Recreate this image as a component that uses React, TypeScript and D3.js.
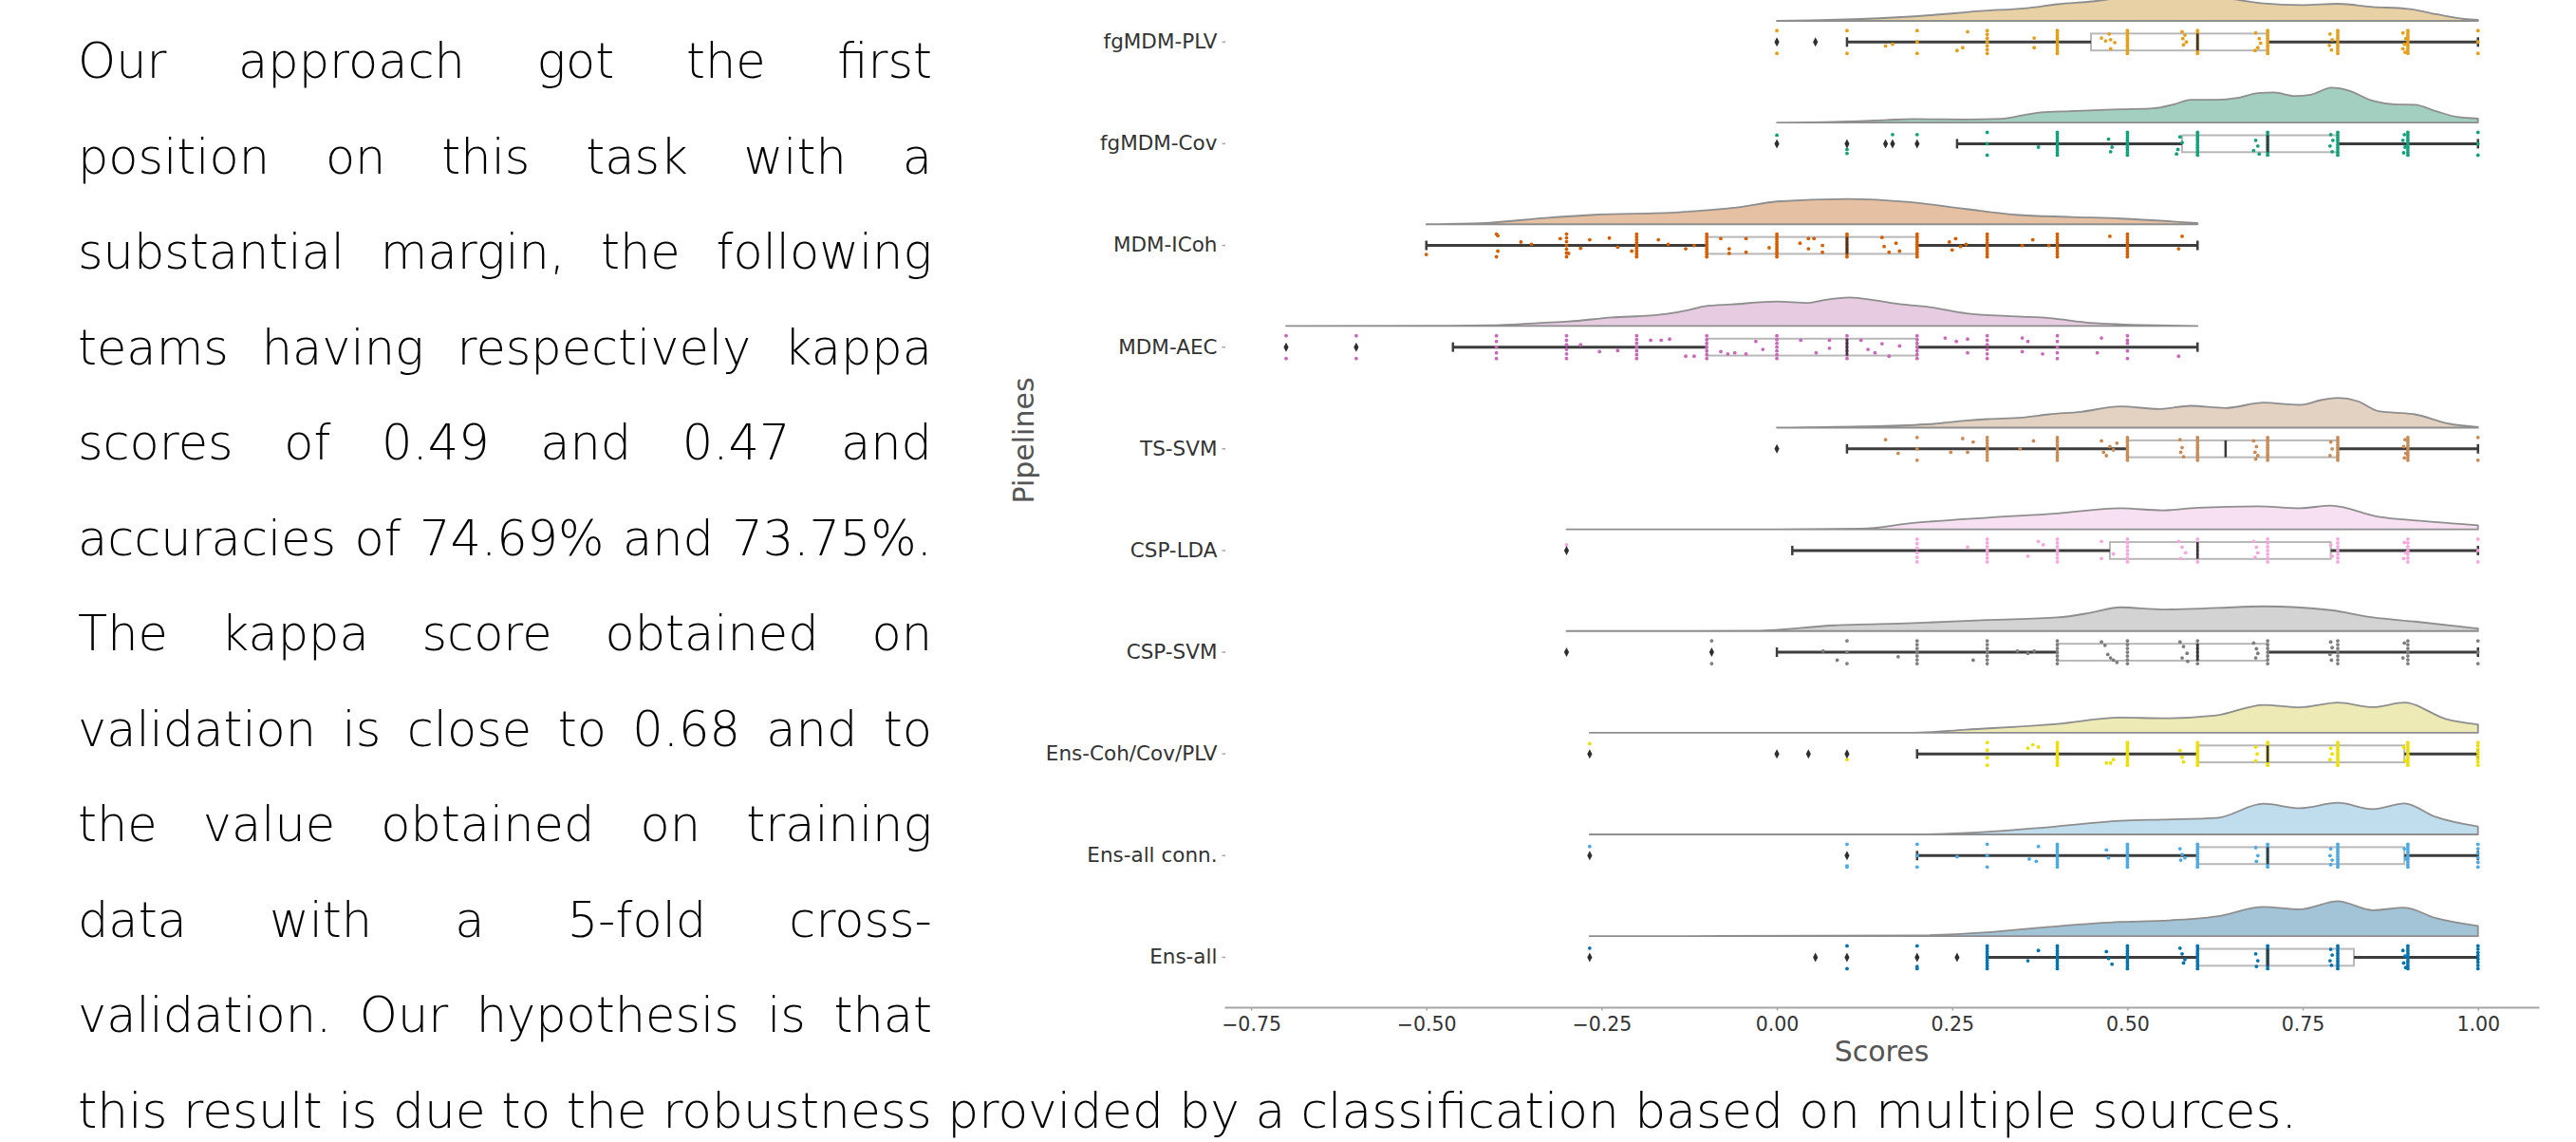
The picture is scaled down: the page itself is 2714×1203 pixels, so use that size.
import { useEffect, useRef } from "react";
import * as d3 from "d3";

const W = 2714;
const H = 1203;

// ---- paragraph text ----
const justifiedLines = [
  "Our approach got the first",
  "position on this task with a",
  "substantial margin, the following",
  "teams having respectively kappa",
  "scores of 0.49 and 0.47 and",
  "accuracies of 74.69% and 73.75%.",
  "The kappa score obtained on",
  "validation is close to 0.68 and to",
  "the value obtained on training",
  "data with a 5-fold cross-",
  "validation. Our hypothesis is that",
];
const lastLine =
  "this result is due to the robustness provided by a classification based on multiple sources.";

// ---- chart data ----
const pipelines = [
  "fgMDM-PLV",
  "fgMDM-Cov",
  "MDM-ICoh",
  "MDM-AEC",
  "TS-SVM",
  "CSP-LDA",
  "CSP-SVM",
  "Ens-Coh/Cov/PLV",
  "Ens-all conn.",
  "Ens-all",
];

const stripColors = [
  "#e69f1a", "#10a37a", "#d55e00", "#c968b9", "#c98b55",
  "#f7a6de", "#7d7d7d", "#ede000", "#4aaae6", "#0173b2",
];
const cloudColors = [
  "#e8d1a4", "#a3cfc0", "#e5c0a2", "#e6cbe1", "#e3d2c2",
  "#f7e0f1", "#d3d3d3", "#eeeab6", "#c0ddee", "#a3c3d7",
];

// [whisker low, q1, median, q3, whisker high]
const boxStats = [
  [0.1, 0.448, 0.6, 0.7, 1.0],
  [0.257, 0.578, 0.7, 0.8, 1.0],
  [-0.5, -0.1, 0.1, 0.2, 0.6],
  [-0.462, -0.1, 0.1, 0.2, 0.6],
  [0.1, 0.5, 0.64, 0.8, 1.0],
  [0.022, 0.475, 0.6, 0.79, 1.0],
  [0.0, 0.4, 0.6, 0.7, 1.0],
  [0.2, 0.6, 0.7, 0.895, 1.0],
  [0.2, 0.6, 0.7, 0.895, 1.0],
  [0.3, 0.6, 0.7, 0.823, 1.0],
];

const outliers = [
  [0.0, 0.055],
  [0.0, 0.1, 0.155, 0.165, 0.2],
  [],
  [-0.7, -0.6],
  [0.0],
  [-0.3],
  [-0.3, -0.093],
  [-0.267, 0.0, 0.045, 0.1],
  [-0.267, 0.1],
  [-0.267, 0.055, 0.1, 0.2, 0.257],
];

// repeated scores: [score, count]
const stacks = [
  [[0.0, 3], [0.1, 2], [0.2, 3], [0.3, 7], [0.4, 10], [0.5, 10], [0.6, 10], [0.7, 10], [0.8, 10], [0.9, 10], [1.0, 3]],
  [[0.3, 3], [0.4, 10], [0.5, 10], [0.6, 10], [0.7, 10], [0.8, 10], [0.9, 10], [1.0, 3]],
  [[-0.4, 2], [-0.3, 7], [-0.2, 9], [-0.1, 10], [0.0, 10], [0.1, 10], [0.2, 10], [0.3, 9], [0.4, 9], [0.5, 9]],
  [[-0.7, 2], [-0.6, 2], [-0.4, 5], [-0.3, 6], [-0.2, 7], [-0.1, 7], [0.0, 7], [0.1, 7], [0.2, 7], [0.3, 6], [0.4, 5], [0.5, 4]],
  [[0.2, 3], [0.3, 9], [0.4, 10], [0.5, 10], [0.6, 10], [0.7, 10], [0.8, 10], [0.9, 10], [1.0, 2]],
  [[0.2, 6], [0.3, 7], [0.4, 7], [0.5, 7], [0.6, 7], [0.7, 7], [0.8, 7], [0.9, 7], [1.0, 3]],
  [[-0.093, 2], [0.1, 3], [0.2, 7], [0.3, 7], [0.4, 7], [0.5, 7], [0.6, 7], [0.7, 7], [0.8, 7], [0.9, 7], [1.0, 3]],
  [[0.3, 4], [0.4, 10], [0.5, 10], [0.6, 10], [0.7, 10], [0.8, 10], [0.9, 10], [1.0, 8]],
  [[0.1, 2], [0.2, 3], [0.3, 3], [0.4, 10], [0.5, 10], [0.6, 10], [0.7, 10], [0.8, 10], [0.9, 10], [1.0, 6]],
  [[0.1, 3], [0.2, 2], [0.3, 9], [0.4, 10], [0.5, 10], [0.6, 10], [0.7, 10], [0.8, 10], [0.9, 10], [1.0, 8]],
];

// single scores: [score, jitter position -1 (top) .. 1 (bottom)]
const dots = [
  [[0.155, 0.35], [0.165, 0.2], [0.257, 0.75], [0.265, 0.5], [0.272, -0.9], [0.367, -0.35], [0.367, 0.5],
   [0.463, -0.35], [0.469, -0.1], [0.476, -0.2], [0.482, 0.05], [0.474, -0.7], [0.476, 0.6],
   [0.578, -0.9], [0.582, -0.6], [0.579, -0.3], [0.584, 0.0], [0.58, 0.25],
   [0.683, -0.8], [0.688, -0.3], [0.69, 0.1], [0.686, 0.5], [0.682, 0.75],
   [0.789, -0.7], [0.792, -0.2], [0.788, 0.3], [0.791, 0.7],
   [0.893, -0.8], [0.897, -0.3], [0.895, 0.2], [0.893, 0.6], [0.896, 0.9]],
  [[0.0, -0.75], [0.1, 0.5], [0.1, 0.85], [0.165, -0.8], [0.2, -0.8], [0.373, 0.3],
   [0.473, -0.4], [0.478, 0.3], [0.476, 0.7],
   [0.575, -0.6], [0.578, -0.1], [0.572, 0.5], [0.57, 0.9],
   [0.683, -0.3], [0.686, 0.2], [0.68, 0.6], [0.688, 0.9],
   [0.79, -0.8], [0.793, -0.3], [0.789, 0.2], [0.792, 0.7],
   [0.895, -0.8], [0.893, -0.3], [0.896, 0.3], [0.894, 0.8]],
  [[-0.5, 0.8], [-0.398, -0.85], [-0.398, 0.5], [-0.365, -0.3], [-0.35, -0.1], [-0.309, -0.6], [-0.297, 0.7],
   [-0.28, 0.25], [-0.267, -0.5], [-0.239, -0.65], [-0.227, 0.15], [-0.207, 0.5], [-0.169, -0.5],
   [-0.155, -0.1], [-0.13, 0.3], [-0.118, 0.0], [-0.08, -0.6], [-0.068, 0.3], [-0.068, 0.7],
   [-0.044, -0.6], [-0.044, 0.6], [-0.011, 0.2], [0.033, -0.2], [0.045, -0.6], [0.045, 0.3],
   [0.053, -0.6], [0.065, 0.0], [0.065, 0.6], [0.15, -0.7], [0.153, 0.1], [0.16, 0.6], [0.17, -0.2],
   [0.175, 0.5], [0.246, -0.3], [0.25, 0.4], [0.255, -0.6], [0.262, 0.1], [0.27, -0.1],
   [0.35, 0.0], [0.365, -0.5], [0.388, 0.0], [0.475, -0.8], [0.573, 0.3], [0.578, -0.8]],
  [[-0.28, -0.2], [-0.253, 0.4], [-0.227, 0.3], [-0.18, -0.6], [-0.165, -0.6], [-0.153, -0.7],
   [-0.13, 0.8], [-0.118, 0.8], [-0.08, 0.4], [-0.07, 0.6], [-0.06, 0.5], [-0.044, 0.6],
   [-0.03, -0.5], [-0.02, 0.2], [0.034, -0.6], [0.056, 0.5], [0.075, -0.6], [0.075, 0.1],
   [0.12, -0.6], [0.13, 0.2], [0.14, 0.5], [0.15, -0.3], [0.16, 0.8], [0.175, -0.1],
   [0.24, -0.8], [0.256, -0.5], [0.272, -0.7], [0.272, 0.5], [0.35, -0.8], [0.35, 0.4],
   [0.358, -0.5], [0.379, 0.6], [0.463, -0.8], [0.457, 0.5], [0.5, -0.6], [0.573, 0.8]],
  [[0.155, -0.8], [0.173, 0.4], [0.248, 0.3], [0.265, -0.9], [0.272, 0.3], [0.28, -0.6],
   [0.347, 0.0], [0.366, -0.7], [0.463, -0.7], [0.466, 0.3], [0.47, 0.6], [0.475, -0.2], [0.48, 0.1], [0.485, -0.5],
   [0.575, -0.8], [0.578, -0.1], [0.576, 0.3], [0.58, 0.7],
   [0.68, -0.7], [0.684, -0.2], [0.682, 0.3], [0.686, 0.6], [0.683, 0.9],
   [0.79, -0.6], [0.792, 0.0], [0.789, 0.6],
   [0.896, -0.8], [0.894, -0.2], [0.897, 0.4], [0.895, 0.8]],
  [[-0.3, -0.5], [0.272, -0.3], [0.358, 0.5], [0.373, -0.8], [0.38, -0.5], [0.463, -0.8], [0.463, 0.7], [0.48, 0.3],
   [0.573, -0.8], [0.578, -0.3], [0.583, 0.2], [0.576, 0.7],
   [0.68, -0.8], [0.684, -0.3], [0.686, 0.2], [0.682, 0.6],
   [0.79, -0.5], [0.792, 0.5], [0.895, -0.7], [0.897, 0.2], [0.894, 0.7]],
  [[0.066, -0.1], [0.086, 0.7], [0.173, 0.4], [0.28, 0.7], [0.343, -0.1], [0.358, 0.1], [0.367, -0.1],
   [0.463, -0.9], [0.468, -0.6], [0.472, 0.2], [0.476, 0.5], [0.48, 0.7], [0.485, 0.9],
   [0.575, -0.9], [0.58, -0.5], [0.585, 0.1], [0.578, 0.5], [0.586, 0.8],
   [0.68, -0.8], [0.684, -0.3], [0.686, 0.1], [0.683, 0.5],
   [0.79, -0.9], [0.792, -0.4], [0.789, 0.2], [0.791, 0.7], [0.895, -0.8], [0.893, 0.5]],
  [[-0.267, -0.9], [0.1, 0.5], [0.358, -0.5], [0.365, -0.8], [0.373, -0.6], [0.47, 0.8], [0.476, 0.8], [0.48, 0.5],
   [0.575, -0.3], [0.578, 0.3], [0.58, 0.7], [0.683, -0.6], [0.685, 0.0], [0.683, 0.6],
   [0.79, -0.5], [0.792, 0.0], [0.789, 0.5], [0.894, -0.6], [0.896, 0.6]],
  [[-0.267, -0.8], [0.1, 0.9], [0.257, 0.1], [0.36, 0.3], [0.37, 0.5], [0.373, -0.8], [0.47, -0.5], [0.473, 0.2],
   [0.575, -0.6], [0.578, -0.1], [0.582, 0.2], [0.576, 0.4], [0.683, -0.7], [0.686, 0.0], [0.684, 0.5],
   [0.79, -0.6], [0.789, 0.0], [0.792, 0.4], [0.79, 0.8], [0.895, -0.6], [0.897, 0.3]],
  [[-0.267, -0.8], [0.2, 0.8], [0.358, 0.3], [0.373, -0.6], [0.47, -0.5], [0.473, 0.1], [0.478, 0.6],
   [0.575, -0.8], [0.578, -0.3], [0.582, 0.2], [0.58, 0.5], [0.683, -0.3], [0.686, 0.3], [0.684, 0.8],
   [0.79, -0.7], [0.792, -0.2], [0.789, 0.3], [0.791, 0.7], [0.893, -0.6], [0.896, -0.1], [0.894, 0.5], [0.897, 0.9]],
];

// half-violin densities: [score, relative density]
const clouds = [
  [[0.0, 0], [0.05, 0.05], [0.12, 0.2], [0.22, 0.6], [0.29, 1.03], [0.36, 1.37], [0.4, 1.75], [0.45, 2.05],
   [0.5, 2.5], [0.55, 2.6], [0.6, 2.7], [0.64, 2.4], [0.69, 1.87], [0.75, 1.67], [0.8, 1.8], [0.85, 1.47],
   [0.9, 1.27], [0.94, 0.7], [0.98, 0.2], [1.0, 0.1]],
  [[0.0, 0], [0.082, 0.07], [0.157, 0.27], [0.194, 0.37], [0.269, 0.33], [0.321, 0.4], [0.351, 0.77],
   [0.377, 1.07], [0.418, 1.2], [0.463, 1.33], [0.492, 1.4], [0.537, 1.5], [0.567, 1.93], [0.59, 2.4],
   [0.627, 2.4], [0.657, 2.6], [0.686, 3.1], [0.709, 3.17], [0.739, 2.8], [0.761, 2.93], [0.791, 3.67],
   [0.813, 3.43], [0.851, 2.27], [0.88, 1.93], [0.91, 1.87], [0.94, 1.2], [0.97, 0.6], [1.0, 0.43]],
  [[-0.5, 0], [-0.41, 0.17], [-0.33, 0.67], [-0.26, 1.0], [-0.14, 1.27], [-0.05, 1.83], [0.0, 2.4],
   [0.1, 2.67], [0.19, 2.33], [0.27, 1.6], [0.34, 1.0], [0.42, 0.77], [0.49, 0.6], [0.6, 0.13]],
  [[-0.7, 0], [-0.49, 0.02], [-0.41, 0.07], [-0.336, 0.33], [-0.297, 0.47], [-0.235, 0.9], [-0.18, 1.1],
   [-0.157, 1.27], [-0.126, 1.67], [-0.103, 2.07], [-0.064, 2.27], [0.0, 2.57], [0.045, 2.43], [0.067, 2.73],
   [0.104, 3.0], [0.142, 2.67], [0.179, 2.27], [0.216, 2.0], [0.27, 1.33], [0.343, 1.0], [0.388, 0.83],
   [0.448, 0.33], [0.49, 0.17], [0.6, 0]],
  [[0.0, 0], [0.12, 0.13], [0.224, 0.4], [0.269, 0.73], [0.3, 0.9], [0.35, 1.07], [0.388, 1.4], [0.433, 1.67],
   [0.49, 2.23], [0.545, 1.97], [0.59, 2.3], [0.64, 2.07], [0.694, 2.63], [0.746, 2.4], [0.776, 2.9],
   [0.8, 3.13], [0.828, 2.8], [0.858, 1.73], [0.91, 1.4], [0.96, 0.4], [1.0, 0.07]],
  [[-0.3, 0], [0.0, 0.0], [0.12, 0.07], [0.194, 0.67], [0.3, 1.23], [0.4, 1.67], [0.49, 2.23], [0.55, 2.0],
   [0.6, 2.27], [0.686, 2.43], [0.746, 2.23], [0.79, 2.5], [0.858, 1.33], [0.918, 0.9], [1.0, 0.43]],
  [[-0.3, 0], [-0.03, 0.03], [0.082, 0.6], [0.194, 0.83], [0.3, 1.17], [0.4, 1.43], [0.448, 1.93], [0.49, 2.5],
   [0.55, 2.27], [0.627, 2.43], [0.694, 2.6], [0.79, 2.2], [0.85, 1.43], [0.91, 1.0], [1.0, 0.27]],
  [[-0.267, 0], [0.194, 0.0], [0.27, 0.33], [0.4, 0.93], [0.49, 1.6], [0.55, 1.53], [0.627, 1.83], [0.694, 2.93],
   [0.746, 2.67], [0.8, 3.17], [0.85, 2.7], [0.895, 3.17], [0.955, 1.43], [1.0, 0.87]],
  [[-0.267, 0], [0.194, 0.0], [0.313, 0.33], [0.388, 0.77], [0.49, 1.43], [0.55, 1.57], [0.627, 1.73], [0.694, 3.23],
   [0.746, 2.77], [0.8, 3.33], [0.85, 2.67], [0.895, 3.27], [0.94, 1.83], [1.0, 0.83]],
  [[-0.267, 0], [0.194, 0.07], [0.3, 0.4], [0.388, 0.97], [0.49, 1.5], [0.55, 1.63], [0.627, 2.07], [0.694, 3.07],
   [0.746, 2.83], [0.8, 3.67], [0.85, 2.73], [0.895, 3.0], [0.94, 1.9], [1.0, 1.07]],
];

const xTicks = [-0.75, -0.5, -0.25, 0, 0.25, 0.5, 0.75, 1.0];

const App = () => {
  const ref = useRef<SVGSVGElement>(null);

  useEffect(() => {
    document.body.style.margin = "0";
    const svg = d3.select(ref.current);
    svg.selectAll("*").remove();

    // ---------- paragraph ----------
    const textLeft = 82;
    const textRight = 982;
    const baseline0 = 82;
    const lineGap = 100.5;
    const para = svg
      .append("g")
      .attr("font-family", "'DejaVu Sans', sans-serif")
      .attr("font-weight", 200)
      .attr("font-size", 51)
      .attr("fill", "#000");

    justifiedLines.forEach((line, i) => {
      const y = baseline0 + i * lineGap;
      const words = line.split(" ");
      const nodes = words.map((w) => para.append("text").attr("y", y).text(w));
      const widths = nodes.map((n) => (n.node() as SVGTextElement).getComputedTextLength());
      const gap = (textRight - textLeft - d3.sum(widths)) / Math.max(1, words.length - 1);
      let x = textLeft;
      nodes.forEach((n, k) => {
        n.attr("x", x);
        x += widths[k] + gap;
      });
    });

    para
      .append("text")
      .attr("x", textLeft)
      .attr("y", baseline0 + justifiedLines.length * lineGap)
      .attr("textLength", 2338)
      .attr("lengthAdjust", "spacingAndGlyphs")
      .text(lastLine);

    // ---------- chart ----------
    const x = d3.scaleLinear().domain([-0.788, 1.087]).range([1290, 2675]);
    const y = d3.scaleBand().domain(pipelines).range([-9.3, 1062]).paddingInner(0).paddingOuter(0);
    const bw = y.bandwidth();
    const cloudOffset = 0.208 * bw;
    const jitter = 0.112 * bw;
    const boxHalf = 0.083 * bw;
    const capHalf = 5;
    const dens = d3.scaleLinear().domain([0, 1]).range([0, 10]);

    const chart = svg.append("g");

    pipelines.forEach((name, i) => {
      const cy = (y(name) as number) + bw / 2;
      const base = cy - cloudOffset;
      const g = chart.append("g");

      // cloud
      const area = d3
        .area<number[]>()
        .x((d) => x(d[0]))
        .y0(base)
        .y1((d) => base - dens(d[1]))
        .curve(d3.curveMonotoneX);
      g.append("path")
        .attr("d", area(clouds[i]) as string)
        .attr("fill", cloudColors[i])
        .attr("stroke", "#8e8e8e")
        .attr("stroke-width", 1.8)
        .attr("stroke-linejoin", "round");

      const [lo, q1, med, q3, hi] = boxStats[i];

      // box
      g.append("rect")
        .attr("x", x(q1))
        .attr("y", cy - boxHalf)
        .attr("width", x(q3) - x(q1))
        .attr("height", boxHalf * 2)
        .attr("fill", "none")
        .attr("stroke", "#b8b8b8")
        .attr("stroke-width", 2);

      // whiskers
      const wh = g.append("g").attr("stroke", "#3d3d3d").attr("stroke-width", 3);
      wh.append("line").attr("x1", x(lo)).attr("x2", x(q1)).attr("y1", cy).attr("y2", cy);
      wh.append("line").attr("x1", x(q3)).attr("x2", x(hi)).attr("y1", cy).attr("y2", cy);
      [lo, hi].forEach((v) =>
        wh.append("line")
          .attr("x1", x(v)).attr("x2", x(v))
          .attr("y1", cy - capHalf).attr("y2", cy + capHalf)
          .attr("stroke-width", 2.5)
      );

      // strip points
      const pts: [number, number][] = [];
      stacks[i].forEach(([v, n]) => {
        for (let k = 0; k < n; k++) pts.push([v, n === 1 ? 0 : -1 + (2 * k) / (n - 1)]);
      });
      dots[i].forEach(([v, o]) => pts.push([v, o]));
      g.append("g")
        .selectAll("circle")
        .data(pts)
        .join("circle")
        .attr("cx", (d) => x(d[0]))
        .attr("cy", (d) => cy + d[1] * jitter)
        .attr("r", 1.9)
        .attr("fill", stripColors[i]);

      // median
      g.append("line")
        .attr("x1", x(med)).attr("x2", x(med))
        .attr("y1", cy - boxHalf).attr("y2", cy + boxHalf)
        .attr("stroke", "#3a3a3a")
        .attr("stroke-width", 2.5);

      // outliers
      g.append("g")
        .selectAll("path")
        .data(outliers[i])
        .join("path")
        .attr("transform", (d) => `translate(${x(d)},${cy})`)
        .attr("d", "M0,-5L2.6,0L0,5L-2.6,0Z")
        .attr("fill", "#2f2f2f");
    });

    // x axis
    const xAxis = svg
      .append("g")
      .attr("transform", "translate(0,1061)")
      .call(
        d3.axisBottom(x)
          .tickValues(xTicks)
          .tickFormat(d3.format(".2f"))
          .tickSize(3.5)
          .tickPadding(7)
          .tickSizeOuter(0)
      );
    xAxis.select(".domain").attr("stroke", "#a6a6a6").attr("stroke-width", 2.2);
    xAxis.selectAll(".tick line").attr("stroke", "#a6a6a6").attr("stroke-width", 1.5);
    xAxis.selectAll(".tick text")
      .attr("fill", "#333")
      .attr("font-size", 20.5)
      .attr("font-family", "'DejaVu Sans', sans-serif");

    // y axis
    const yAxis = svg
      .append("g")
      .attr("transform", "translate(1291,0)")
      .call(d3.axisLeft(y).tickSize(3.5).tickPadding(5));
    yAxis.select(".domain").remove();
    yAxis.selectAll(".tick line").attr("stroke", "#a6a6a6").attr("stroke-width", 1.5);
    yAxis.selectAll(".tick text")
      .attr("fill", "#333")
      .attr("font-size", 21.5)
      .attr("font-family", "'DejaVu Sans', sans-serif");

    // axis titles
    svg.append("text")
      .attr("x", (x.range()[0] + x.range()[1]) / 2)
      .attr("y", 1118)
      .attr("text-anchor", "middle")
      .attr("font-family", "'DejaVu Sans', sans-serif")
      .attr("font-size", 30)
      .attr("fill", "#555")
      .text("Scores");

    svg.append("text")
      .attr("transform", "translate(1089,464) rotate(-90)")
      .attr("text-anchor", "middle")
      .attr("font-family", "'DejaVu Sans', sans-serif")
      .attr("font-size", 30)
      .attr("fill", "#555")
      .text("Pipelines");
  }, []);

  return (
    <svg
      ref={ref}
      width={W}
      height={H}
      viewBox={`0 0 ${W} ${H}`}
      style={{ position: "absolute", left: 0, top: 0, display: "block", background: "#fff" }}
    ></svg>
  );
};

export default App;
